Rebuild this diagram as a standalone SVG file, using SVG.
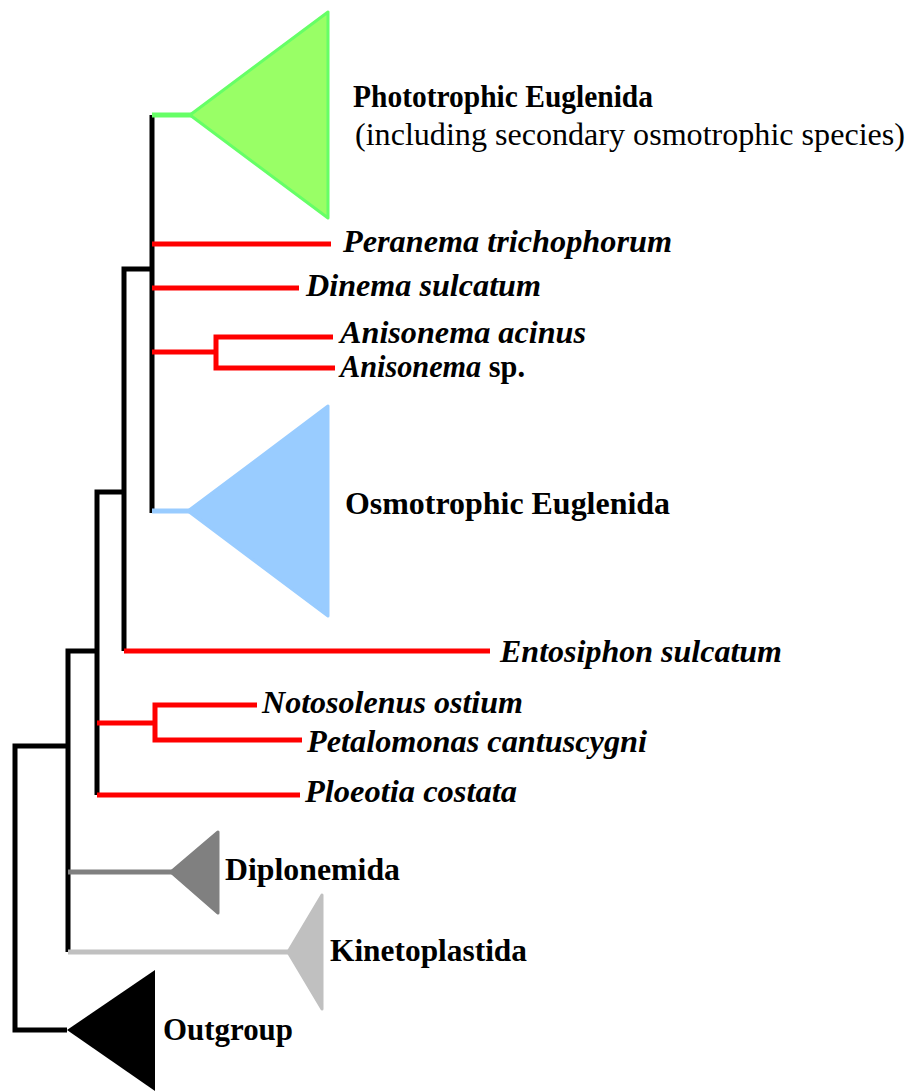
<svg xmlns="http://www.w3.org/2000/svg" width="907" height="1091" viewBox="0 0 907 1091">
<style>
text{font-family:"Liberation Serif","Times New Roman",serif;font-size:31px;fill:#000}
.b{font-weight:bold}
.bi{font-weight:bold;font-style:italic}
.k{stroke:#000;stroke-width:5;fill:none}
.r{stroke:#FF0000;stroke-width:5;fill:none}
.tri{stroke-linejoin:round;stroke-width:3}
</style>
<rect width="907" height="1091" fill="#fff"/>
<g id="connectors">
  <path class="k" d="M15,746 V1030 M12.5,746 H68 M12.5,1030 H67"/>
  <path class="k" d="M68,651 V952 M65.5,651 H97"/>
  <path class="k" d="M97,492 V795 M94.5,492 H124"/>
  <path class="k" d="M124,269 V651 M121.5,269 H152"/>
  <path class="k" d="M152,115 V513"/>
  <path d="M152,115 H192" stroke="#66FF66" stroke-width="5"/>
  <path d="M152,511 H190" stroke="#99CCFF" stroke-width="5"/>
  <path class="r" d="M152,244 H331 M152,288 H299 M152,352 H216 M216,335 V370 M213.5,337 H333 M213.5,368 H335"/>
  <path class="r" d="M124,651 H490"/>
  <path class="r" d="M97,723 H155 M155,703 V742 M152.5,705 H257 M152.5,740 H302 M97,795 H300"/>
  <path d="M68,872 H172" stroke="#808080" stroke-width="5"/>
  <path d="M68,952 H289" stroke="#C0C0C0" stroke-width="5"/>
</g>
<g id="phototrophic">
  <polygon class="tri" points="190,115 328,12 328,218" fill="#99FF66" stroke="#66FF66" stroke-width="5"/>
  <text class="b" x="353" y="107" textLength="300" lengthAdjust="spacingAndGlyphs">Phototrophic Euglenida</text>
  <text x="355" y="145" textLength="550" lengthAdjust="spacingAndGlyphs">(including secondary osmotrophic species)</text>
</g>
<g id="peranema"><text class="bi" x="343" y="252" textLength="329" lengthAdjust="spacingAndGlyphs">Peranema trichophorum</text></g>
<g id="dinema"><text class="bi" x="306" y="296" textLength="235" lengthAdjust="spacingAndGlyphs">Dinema sulcatum</text></g>
<g id="anisonema-acinus"><text class="bi" x="340" y="343" textLength="246" lengthAdjust="spacingAndGlyphs">Anisonema acinus</text></g>
<g id="anisonema-sp"><text x="340" y="377" textLength="185" lengthAdjust="spacingAndGlyphs"><tspan class="bi">Anisonema</tspan><tspan class="b"> sp.</tspan></text></g>
<g id="osmotrophic">
  <polygon class="tri" points="188,511 328,406 328,616" fill="#99CCFF" stroke="#99CCFF"/>
  <text class="b" x="345" y="514" textLength="325" lengthAdjust="spacingAndGlyphs">Osmotrophic Euglenida</text>
</g>
<g id="entosiphon"><text class="bi" x="500" y="662" textLength="282" lengthAdjust="spacingAndGlyphs">Entosiphon sulcatum</text></g>
<g id="notosolenus"><text class="bi" x="262" y="713" textLength="261" lengthAdjust="spacingAndGlyphs">Notosolenus ostium</text></g>
<g id="petalomonas"><text class="bi" x="307" y="752" textLength="340" lengthAdjust="spacingAndGlyphs">Petalomonas cantuscygni</text></g>
<g id="ploeotia"><text class="bi" x="305" y="802" textLength="212" lengthAdjust="spacingAndGlyphs">Ploeotia costata</text></g>
<g id="diplonemida">
  <polygon class="tri" points="171,872 218,832 218,913" fill="#808080" stroke="#808080"/>
  <text class="b" x="225" y="880" textLength="175" lengthAdjust="spacingAndGlyphs">Diplonemida</text>
</g>
<g id="kinetoplastida">
  <polygon class="tri" points="288,952 322,895 322,1009" fill="#C0C0C0" stroke="#C0C0C0"/>
  <text class="b" x="330" y="961" textLength="197" lengthAdjust="spacingAndGlyphs">Kinetoplastida</text>
</g>
<g id="outgroup">
  <polygon points="67,1030 155,970 155,1091" fill="#000"/>
  <text class="b" x="163" y="1040" textLength="130" lengthAdjust="spacingAndGlyphs">Outgroup</text>
</g>
</svg>
